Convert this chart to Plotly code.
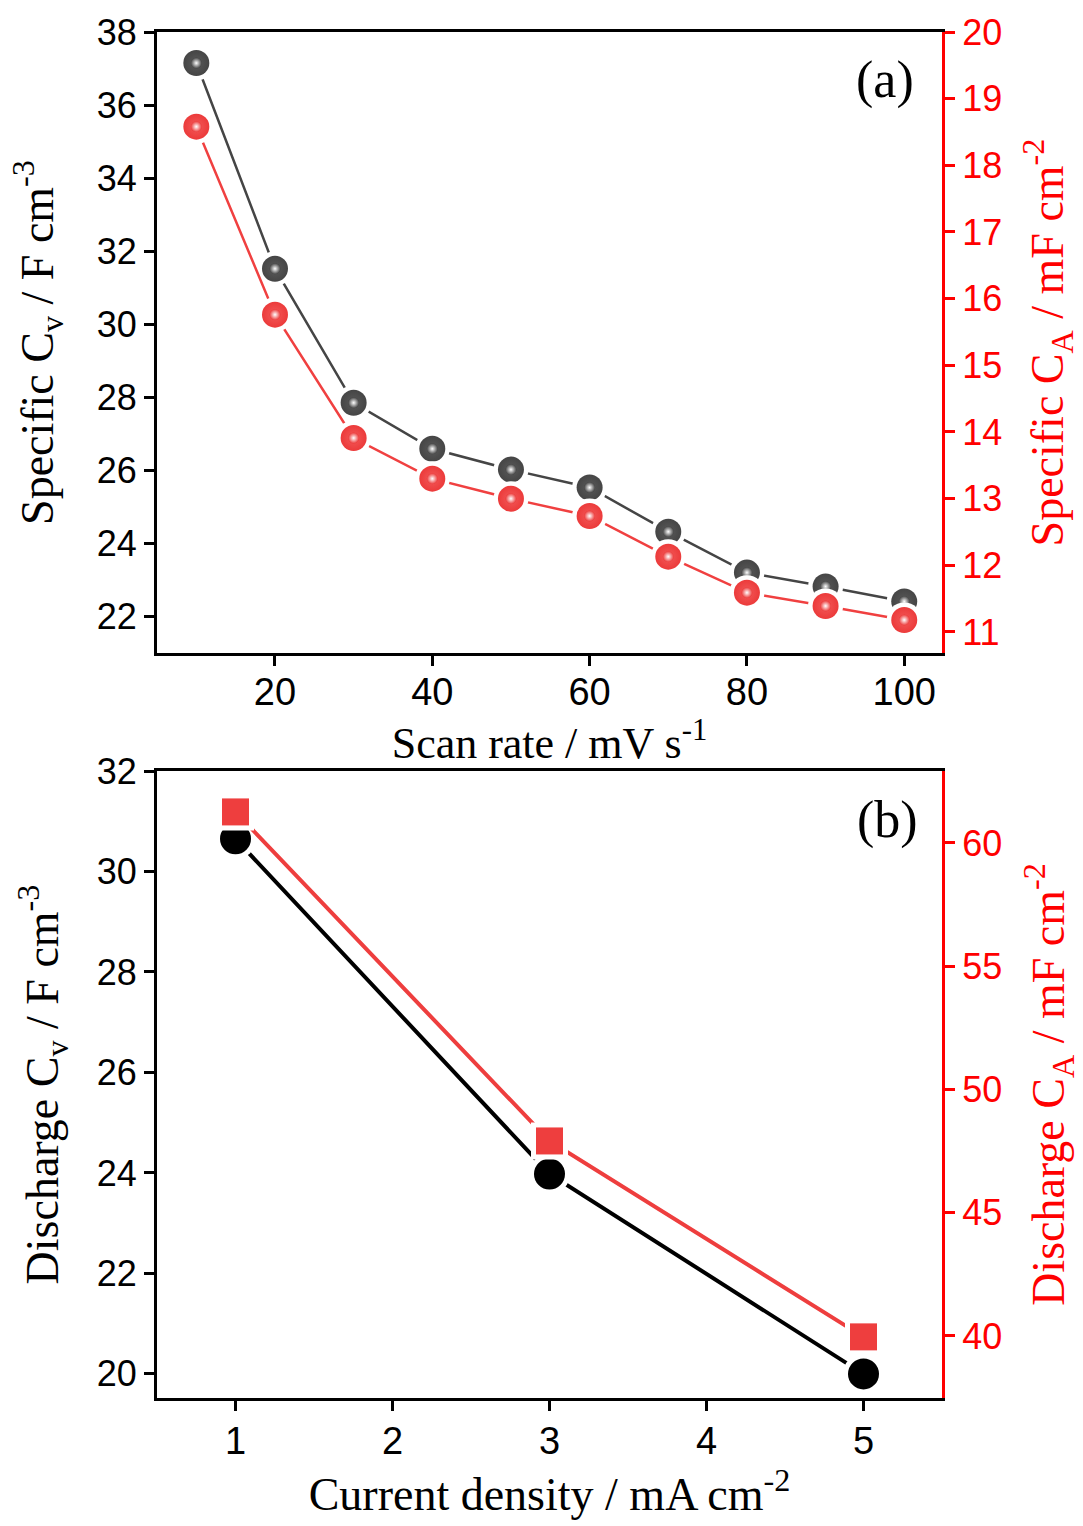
import plotly.graph_objects as go

# ---- data ----
scan_rate = [10, 20, 30, 40, 50, 60, 70, 80, 90, 100]
cv_scan = [37.15, 31.52, 27.85, 26.59, 26.02, 25.53, 24.32, 23.20, 22.82, 22.41]
ca_scan = [18.58, 15.76, 13.91, 13.30, 13.00, 12.74, 12.13, 11.59, 11.39, 11.18]

current_density = [1, 3, 5]
cv_dis = [30.65, 23.98, 20.0]
ca_dis = [61.26, 47.91, 39.96]

x_ticks_a = [20, 40, 60, 80, 100]
x_ticks_b = [1, 2, 3, 4, 5]

BLACK_A = "#454545"
RED = "#f04040"
AXRED = "#ff0000"
SERIF = "Liberation Serif, Times New Roman, serif"
SANS = "Liberation Sans, Arial, sans-serif"

fig = go.Figure()

# ---- panel (a) ----
fig.add_trace(go.Scatter(x=scan_rate, y=cv_scan, mode="lines", line=dict(color=BLACK_A, width=2.5),
                         xaxis="x", yaxis="y", showlegend=False, hoverinfo="skip"))
fig.add_trace(go.Scatter(x=scan_rate, y=ca_scan, mode="lines", line=dict(color=RED, width=2.5),
                         xaxis="x", yaxis="y2", showlegend=False, hoverinfo="skip"))
fig.add_trace(go.Scatter(x=scan_rate, y=cv_scan, mode="markers", marker=dict(color="white", size=35),
                         xaxis="x", yaxis="y", showlegend=False, hoverinfo="skip"))
fig.add_trace(go.Scatter(x=scan_rate, y=ca_scan, mode="markers", marker=dict(color="white", size=35),
                         xaxis="x", yaxis="y2", showlegend=False, hoverinfo="skip"))
fig.add_trace(go.Scatter(x=scan_rate, y=cv_scan, mode="markers",
                         marker=dict(color=BLACK_A, size=26, line=dict(width=0),
                                     gradient=dict(type="radial", color="#5a5a5a")),
                         xaxis="x", yaxis="y", showlegend=False))
fig.add_trace(go.Scatter(x=scan_rate, y=cv_scan, mode="markers",
                         marker=dict(color=BLACK_A, size=11, line=dict(width=0),
                                     gradient=dict(type="radial", color="#ffffff")),
                         xaxis="x", yaxis="y", showlegend=False, hoverinfo="skip"))
fig.add_trace(go.Scatter(x=scan_rate, y=ca_scan, mode="markers",
                         marker=dict(color="#ec3a3a", size=26, line=dict(width=0),
                                     gradient=dict(type="radial", color="#f25a5a")),
                         xaxis="x", yaxis="y2", showlegend=False))
fig.add_trace(go.Scatter(x=scan_rate, y=ca_scan, mode="markers",
                         marker=dict(color="#ec3a3a", size=11, line=dict(width=0),
                                     gradient=dict(type="radial", color="#ffffff")),
                         xaxis="x", yaxis="y2", showlegend=False, hoverinfo="skip"))

# ---- panel (b) ----
fig.add_trace(go.Scatter(x=current_density, y=cv_dis, mode="lines", line=dict(color="black", width=4),
                         xaxis="x2", yaxis="y3", showlegend=False, hoverinfo="skip"))
fig.add_trace(go.Scatter(x=current_density, y=ca_dis, mode="lines", line=dict(color="#ee3e3e", width=4),
                         xaxis="x2", yaxis="y4", showlegend=False, hoverinfo="skip"))
fig.add_trace(go.Scatter(x=current_density, y=cv_dis, mode="markers", marker=dict(color="white", size=41),
                         xaxis="x2", yaxis="y3", showlegend=False, hoverinfo="skip"))
fig.add_trace(go.Scatter(x=current_density, y=ca_dis, mode="markers",
                         marker=dict(color="white", size=37, symbol="square"),
                         xaxis="x2", yaxis="y4", showlegend=False, hoverinfo="skip"))
fig.add_trace(go.Scatter(x=current_density, y=cv_dis, mode="markers",
                         marker=dict(color="black", size=31, line=dict(width=0)),
                         xaxis="x2", yaxis="y3", showlegend=False))
fig.add_trace(go.Scatter(x=current_density, y=ca_dis, mode="markers",
                         marker=dict(color="#ee3e3e", size=27, symbol="square", line=dict(width=0)),
                         xaxis="x2", yaxis="y4", showlegend=False))

tick_common = dict(ticks="outside", ticklen=10, tickwidth=3, showline=True, linewidth=3,
                   showgrid=False, zeroline=False)

fig.update_layout(
    width=1083, height=1526,
    margin=dict(l=157, r=141, t=32, b=128),
    plot_bgcolor="white", paper_bgcolor="white",
    xaxis=dict(domain=[0, 1], anchor="y", range=[5, 104.8], tickvals=x_ticks_a,
               linecolor="black", tickcolor="black", mirror=True, ticklabelstandoff=-7,
               tickfont=dict(family=SANS, size=38, color="black"),
               title=dict(text="Scan rate / mV s<sup>-1</sup>", font=dict(family=SERIF, size=44, color="black"),
                          standoff=0),
               **tick_common),
    yaxis=dict(domain=[0.5454, 1], anchor="x", range=[21.0, 38], dtick=2, tick0=22,
               linecolor="black", tickcolor="black",
               tickfont=dict(family=SANS, size=36, color="black"),
               title=dict(text="Specific C<sub>v</sub> / F cm<sup>-3</sup>",
                          font=dict(family=SERIF, size=46, color="black"), standoff=29),
               **tick_common),
    yaxis2=dict(overlaying="y", side="right", anchor="x", range=[10.685, 20], dtick=1, tick0=11,
                linecolor=AXRED, tickcolor=AXRED,
                tickfont=dict(family=SANS, size=36, color=AXRED),
                title=dict(text="Specific C<sub>A</sub> / mF cm<sup>-2</sup>",
                           font=dict(family=SERIF, size=46, color=AXRED), standoff=30),
                **tick_common),
    xaxis2=dict(domain=[0, 1], anchor="y3", range=[0.5, 5.5], tickvals=x_ticks_b,
                linecolor="black", tickcolor="black", mirror=True, ticklabelstandoff=-3,
                tickfont=dict(family=SANS, size=38, color="black"),
                title=dict(text="Current density / mA cm<sup>-2</sup>",
                           font=dict(family=SERIF, size=46, color="black"), standoff=18),
                **tick_common),
    yaxis3=dict(domain=[0, 0.459], anchor="x2", range=[19.52, 32], dtick=2, tick0=20,
                linecolor="black", tickcolor="black",
                tickfont=dict(family=SANS, size=36, color="black"),
                title=dict(text="Discharge C<sub>v</sub> / F cm<sup>-3</sup>",
                           font=dict(family=SERIF, size=46, color="black"), standoff=24),
                **tick_common),
    yaxis4=dict(overlaying="y3", side="right", anchor="x2", range=[37.48, 62.92], dtick=5, tick0=40,
                linecolor=AXRED, tickcolor=AXRED,
                tickfont=dict(family=SANS, size=36, color=AXRED),
                title=dict(text="Discharge C<sub>A</sub> / mF cm<sup>-2</sup>",
                           font=dict(family=SERIF, size=46, color=AXRED), standoff=31),
                **tick_common),
    annotations=[
        dict(text="(a)", xref="x domain", yref="y domain", x=0.927, y=0.923, showarrow=False,
             xanchor="center", yanchor="middle", font=dict(family=SERIF, size=52, color="black")),
        dict(text="(b)", xref="x2 domain", yref="y3 domain", x=0.93, y=0.922, showarrow=False,
             xanchor="center", yanchor="middle", font=dict(family=SERIF, size=52, color="black")),
    ],
)

fig.write_html("out.html")
